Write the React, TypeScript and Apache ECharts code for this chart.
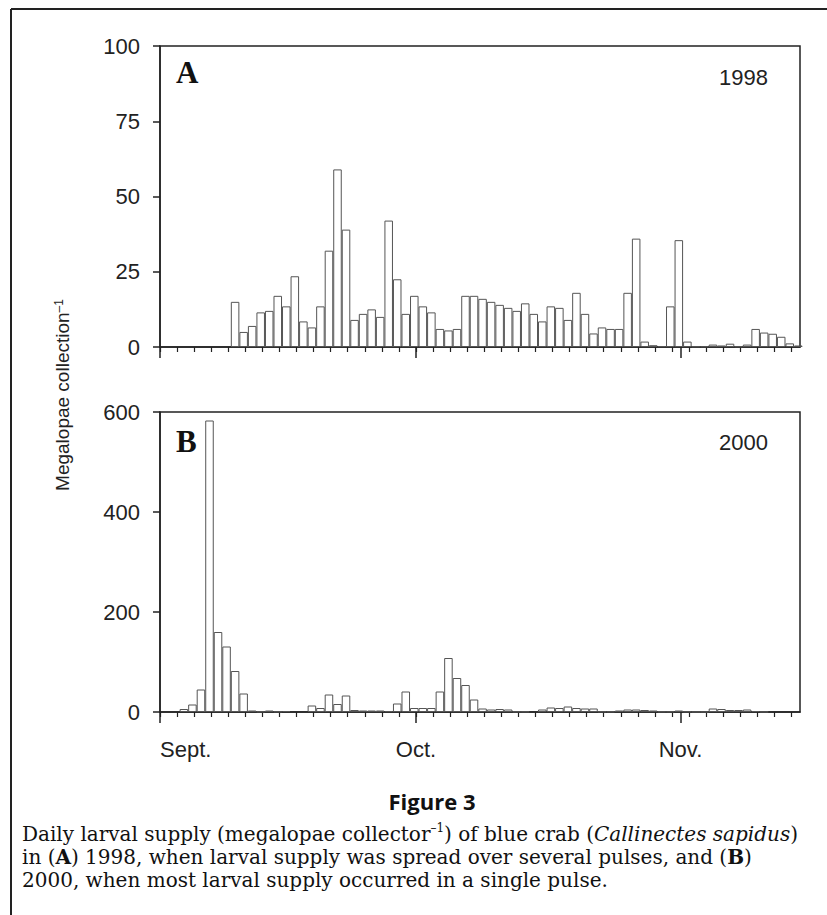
import React, { useEffect, useRef } from 'react';
import * as echarts from 'echarts';

// Days counted from 1 September (index 0) to 14 November (index 74)
const DAY_COUNT = 75;

// Panel A: 1998 daily megalopae per collector
const SUPPLY_1998 = [
  0, 0, 0, 0, 0, 0, 0, 0, 15, 5,
  7, 11.5, 12, 17, 13.5, 23.5, 8.5, 6.5, 13.5, 32,
  59, 39, 9, 11, 12.5, 10, 42, 22.5, 11, 17,
  13.5, 11.5, 6, 5.5, 6, 17, 17, 16, 15, 14,
  13, 12, 14.5, 11, 8.5, 13.5, 13, 9, 18, 11,
  4.5, 6.5, 6, 6, 18, 36, 1.8, 0.6, 0.3, 13.5,
  35.5, 1.8, 0.2, 0.2, 0.8, 0.5, 1.1, 0.2, 0.8, 6,
  4.8, 4.4, 3.4, 1.2, 0.5,
];

// Panel B: 2000 daily megalopae per collector
const SUPPLY_2000 = [
  0, 0, 6, 15, 45, 583, 160, 131, 82, 37,
  3, 1, 3, 1, 2, 0, 0, 13, 8, 35,
  16, 33, 4, 3, 3, 3, 2, 17, 41, 8,
  8, 8, 41, 108, 68, 54, 25, 7, 5, 6,
  5, 1, 1, 0, 5, 9, 8, 11, 8, 7,
  7, 1, 1, 3, 5, 5, 4, 3, 1, 1,
  3, 1, 0.5, 0.5, 7, 6, 4, 4, 5, 2,
  0.5, 0, 0, 0, 0,
];

const MONTH_TICK_DAYS = [0, 30, 61];
const MONTH_LABELS = ['Sept.', 'Oct.', 'Nov.'];
const MINOR_TICK_DAYS = Array.from({ length: 38 }, (_, i) => i * 2);

const Y_MAX_A = 100;
const Y_STEP_A = 25;
const Y_MAX_B = 600;
const Y_STEP_B = 200;

const BAR_OFFSET = 0.8; // bars sit slightly right of the day marks

const SANS = '"Liberation Sans", Arial, Helvetica, sans-serif';
const SERIF = '"Liberation Serif", "Times New Roman", serif';
const CAPTION_SERIF = '"DejaVu Serif", "Liberation Serif", serif';
const INK = '#222';

function toBars(values: number[]) {
  return values
    .map((v, d) => [d + BAR_OFFSET, v])
    .filter((p) => p[1] > 0);
}

function xAxesFor(gridIndex: number, withLabels: boolean) {
  const lineStyle = { color: INK, width: 1.5 };
  return [
    {
      type: 'value',
      gridIndex,
      min: 0,
      max: DAY_COUNT,
      position: 'bottom',
      axisLine: { show: true, onZero: false, lineStyle },
      axisTick: { show: true, customValues: MINOR_TICK_DAYS, length: 5, lineStyle: { color: INK, width: 1.2 } },
      axisLabel: { show: false },
      splitLine: { show: false },
    },
    {
      type: 'value',
      gridIndex,
      min: 0,
      max: DAY_COUNT,
      position: 'bottom',
      axisLine: { show: false, onZero: false },
      axisTick: { show: true, customValues: MONTH_TICK_DAYS, length: 11, lineStyle: { color: INK, width: 1.5 } },
      axisLabel: {
        show: withLabels,
        customValues: MONTH_TICK_DAYS,
        formatter: (v: number) => MONTH_LABELS[MONTH_TICK_DAYS.indexOf(Math.round(v))] ?? '',
        margin: 26,
        fontSize: 22,
        fontFamily: SANS,
        color: INK,
        alignMinLabel: 'left',
      },
      splitLine: { show: false },
    },
  ];
}

function yAxisFor(gridIndex: number, max: number, interval: number) {
  return {
    type: 'value',
    gridIndex,
    min: 0,
    max,
    interval,
    axisLine: { show: true, lineStyle: { color: INK, width: 1.5 } },
    axisTick: { show: true, length: 7, lineStyle: { color: INK, width: 1.5 } },
    axisLabel: { fontSize: 22, fontFamily: SANS, color: INK, margin: 20 },
    splitLine: { show: false },
  };
}

const barStyle = { color: '#ffffff', borderColor: '#555', borderWidth: 1 };

export default function App() {
  const ref = useRef<HTMLDivElement>(null);

  useEffect(() => {
    if (!ref.current) return;
    const chart = echarts.init(ref.current, undefined, { renderer: 'svg' });

    const captionRich = {
      i: { fontStyle: 'italic', fontSize: 20, fontFamily: CAPTION_SERIF, lineHeight: 23, fill: '#111' },
      b: { fontWeight: 'bold', fontSize: 20, fontFamily: CAPTION_SERIF, lineHeight: 23, fill: '#111' },
      sup: { fontSize: 12, fontFamily: CAPTION_SERIF, verticalAlign: 'top', lineHeight: 23, fill: '#111' },
    };

    const option: any = {
      animation: false,
      backgroundColor: '#ffffff',
      grid: [
        { left: 160, top: 46, width: 640, height: 301, show: true, borderColor: INK, borderWidth: 1.5, backgroundColor: 'transparent' },
        { left: 160, top: 412, width: 640, height: 300, show: true, borderColor: INK, borderWidth: 1.5, backgroundColor: 'transparent' },
      ],
      xAxis: [...xAxesFor(0, false), ...xAxesFor(1, true)],
      yAxis: [yAxisFor(0, Y_MAX_A, Y_STEP_A), yAxisFor(1, Y_MAX_B, Y_STEP_B)],
      series: [
        {
          type: 'bar',
          name: '1998',
          xAxisIndex: 0,
          yAxisIndex: 0,
          data: toBars(SUPPLY_1998),
          barWidth: '100%',
          itemStyle: barStyle,
          clip: true,
        },
        {
          type: 'bar',
          name: '2000',
          xAxisIndex: 2,
          yAxisIndex: 1,
          data: toBars(SUPPLY_2000),
          barWidth: '100%',
          itemStyle: barStyle,
          clip: true,
        },
      ],
      graphic: [
        { type: 'line', shape: { x1: 11, y1: 9, x2: 827, y2: 9 }, style: { stroke: INK, lineWidth: 2 } },
        { type: 'line', shape: { x1: 11, y1: 9, x2: 11, y2: 915 }, style: { stroke: INK, lineWidth: 2 } },
        { type: 'text', x: 176, y: 72, style: { text: 'A', font: `bold 31px ${SERIF}`, fill: '#111', textAlign: 'left', textVerticalAlign: 'middle' } },
        { type: 'text', x: 768, y: 77, style: { text: '1998', font: `22px ${SANS}`, fill: INK, textAlign: 'right', textVerticalAlign: 'middle' } },
        { type: 'text', x: 176, y: 441, style: { text: 'B', font: `bold 31px ${SERIF}`, fill: '#111', textAlign: 'left', textVerticalAlign: 'middle' } },
        { type: 'text', x: 768, y: 442, style: { text: '2000', font: `22px ${SANS}`, fill: INK, textAlign: 'right', textVerticalAlign: 'middle' } },
        {
          type: 'text',
          x: 62,
          y: 395,
          rotation: Math.PI / 2,
          style: {
            text: 'Megalopae collection{sup|–1}',
            font: `19px ${SANS}`,
            fill: INK,
            textAlign: 'center',
            textVerticalAlign: 'middle',
            rich: { sup: { fontSize: 12, fontFamily: SANS, verticalAlign: 'top', fill: INK } },
          },
        },
        { type: 'text', x: 432, y: 801, style: { text: 'Figure 3', font: `bold 22px "Open Sans", "Noto Sans", sans-serif`, fill: '#111', textAlign: 'center', textVerticalAlign: 'middle' } },
        {
          type: 'text',
          x: 22,
          y: 822,
          style: {
            text:
              'Daily larval supply (megalopae collector{sup|–1}) of blue crab ({i|Callinectes sapidus})\n' +
              'in ({b|A}) 1998, when larval supply was spread over several pulses, and ({b|B})\n' +
              '2000, when most larval supply occurred in a single pulse.',
            font: `20px ${CAPTION_SERIF}`,
            fill: '#111',
            lineHeight: 23,
            textAlign: 'left',
            textVerticalAlign: 'top',
            rich: captionRich,
          },
        },
      ],
    };

    chart.setOption(option);
    return () => chart.dispose();
  }, []);

  return <div ref={ref} style={{ position: 'absolute', left: 0, top: 0, width: 827, height: 915 }} />;
}
